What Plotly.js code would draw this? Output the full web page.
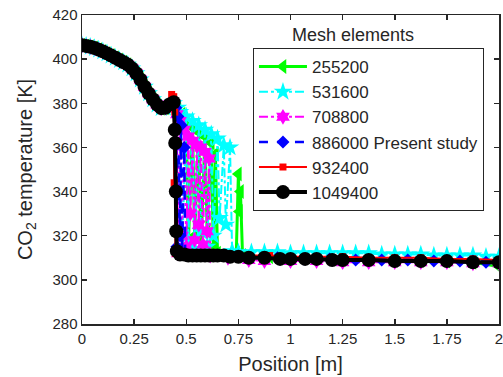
<!DOCTYPE html>
<html><head><meta charset="utf-8">
<script src="https://cdn.plot.ly/plotly-3.0.1.min.js"></script>
<style>html,body{margin:0;padding:0;background:#fff}#c{width:503px;height:377px}</style>
</head><body><div id="c"></div>
<script>
// shared upstream profile (all meshes overlap here)
const upX = [0, 0.02, 0.04, 0.06, 0.08, 0.10, 0.12, 0.14, 0.16, 0.18, 0.20, 0.22, 0.24, 0.26, 0.28, 0.30, 0.32, 0.34, 0.36, 0.38, 0.40, 0.42];
const upT = [406.3, 406, 405.6, 405, 404.3, 403.5, 402.6, 401.6, 400.6, 399.6, 398.6, 397.5, 395.8, 393.6, 390.8, 387.5, 384.5, 381.8, 379.4, 377.8, 378, 379.5];

const names = ['255200', '531600', '708800', '886000 Present study', '932400', '1049400'];

// 255200
const x255 = [0.44, 0.46, 0.48, 0.50, 0.51, 0.53, 0.54, 0.56, 0.57, 0.59, 0.60, 0.62, 0.63, 0.64, 0.65, 0.74, 0.75, 0.755, 0.76, 0.77, 0.8, 0.9, 1.0, 1.125, 1.25, 1.375, 1.5, 1.625, 1.75, 1.875, 2.0];
const t255 = [380, 377, 375, 372, 316, 369, 320, 367, 314, 365, 322, 362, 315, 357, 312, 312, 348, 331, 340, 311, 310.5, 310.5, 310, 310, 309.5, 309.5, 309, 309, 308.5, 308, 306];
// 531600
const x531 = [0.44, 0.46, 0.47, 0.48, 0.50, 0.51, 0.53, 0.54, 0.56, 0.57, 0.59, 0.60, 0.62, 0.63, 0.65, 0.66, 0.68, 0.69, 0.71, 0.72, 0.75, 0.8125, 0.875, 0.9375, 1.0, 1.0625, 1.125, 1.1875, 1.25, 1.3125, 1.375, 1.4375, 1.5, 1.5625, 1.625, 1.6875, 1.75, 1.8125, 1.875, 1.9375, 2.0];
const t531 = [380, 378, 376, 313, 374, 318, 372, 314, 370, 322, 368, 315, 366, 320, 364, 328, 361, 325, 360, 313, 312.5, 312.5, 312.5, 312.5, 312, 312, 312, 312, 312, 312, 312, 311.5, 311.5, 311.5, 311.5, 311, 311, 311, 311, 310.5, 310.5];
// 708800
const x708 = [0.44, 0.455, 0.46, 0.47, 0.48, 0.49, 0.50, 0.51, 0.52, 0.53, 0.54, 0.55, 0.56, 0.57, 0.58, 0.59, 0.60, 0.61, 0.615, 0.7, 0.8, 0.875, 1.0, 1.125, 1.25, 1.375, 1.5, 1.625, 1.75, 1.875, 2.0];
const t708 = [380, 375, 312, 372, 320, 368, 315, 365, 330, 363, 318, 361, 325, 360, 316, 358, 322, 355, 311, 310, 309, 308.5, 308.5, 308.5, 308, 308, 308, 308, 308, 307.5, 307.5];
// 886000
const x886 = [0.44, 0.45, 0.455, 0.46, 0.47, 0.475, 0.48, 0.49, 0.495, 0.5, 0.6, 0.7, 0.8, 0.875, 0.9375, 1.0, 1.0625, 1.125, 1.1875, 1.25, 1.3125, 1.375, 1.4375, 1.5, 1.5625, 1.625, 1.6875, 1.75, 1.8125, 1.875, 1.9375, 2.0];
const t886 = [380, 378, 315, 374, 320, 370, 312, 360, 312, 311, 311, 310.5, 310, 310, 310, 309.5, 309.5, 309.5, 309.5, 309, 309, 309, 309, 309, 309, 308.5, 308.5, 308.5, 308.5, 308.5, 308, 308];
// 932400
const x932 = [0.43, 0.44, 0.442, 0.445, 0.448, 0.46, 0.5, 0.6, 0.7, 0.8, 0.9, 1.0, 1.125, 1.25, 1.375, 1.5, 1.625, 1.75, 1.875, 2.0];
const t932 = [384, 383, 344, 376, 312, 311.5, 311.5, 311.5, 311, 311, 311, 310.5, 310.5, 310.5, 310, 310, 310, 309.5, 309.5, 309];
// 1049400
const x104 = [0.44, 0.445, 0.447, 0.45, 0.452, 0.455, 0.47, 0.49, 0.51, 0.53, 0.55, 0.57, 0.59, 0.61, 0.63, 0.65, 0.68, 0.71, 0.75, 0.8, 0.875, 0.95, 1.0, 1.07, 1.125, 1.2, 1.25, 1.375, 1.5, 1.625, 1.75, 1.875, 2.0];
const t104 = [380.5, 368, 362, 340, 322, 313, 311.5, 311.5, 311, 311, 311, 311, 311, 311, 311, 311, 311, 310.5, 310.5, 310, 310, 309.5, 309.5, 309.5, 309.5, 309, 309, 309, 308.5, 308.5, 308.5, 308, 308];

const xTickVals = [0, 0.25, 0.5, 0.75, 1, 1.25, 1.5, 1.75, 2];
const xTickText = ['0', '0.25', '0.5', '0.75', '1', '1.25', '1.5', '1.75', '2'];
const yTickVals = [280, 300, 320, 340, 360, 380, 400, 420];

const styles = [
  {color: '#00ff00', dash: 'solid', width: 3, symbol: 'triangle-left', size: 13},
  {color: '#00ffff', dash: 'dashdot', width: 2, symbol: 'star', size: 14},
  {color: '#ff00ff', dash: 'dashdot', width: 2, symbol: 'hexagram', size: 12},
  {color: '#0000ff', dash: 'dash', width: 2.5, symbol: 'diamond', size: 10},
  {color: '#ff0000', dash: 'solid', width: 2, symbol: 'square', size: 7},
  {color: '#000000', dash: 'solid', width: 4, symbol: 'circle', size: 14}
];
const xs = [x255, x531, x708, x886, x932, x104];
const ts = [t255, t531, t708, t886, t932, t104];

const traces = names.map((n, i) => ({
  x: upX.concat(xs[i]),
  y: upT.concat(ts[i]),
  name: n,
  type: 'scatter',
  mode: 'lines+markers',
  line: {color: styles[i].color, dash: styles[i].dash, width: styles[i].width},
  marker: {color: styles[i].color, symbol: styles[i].symbol, size: styles[i].size, line: {width: 0}}
}));

const F = 'Liberation Sans, Arial, sans-serif';
const axisCommon = {
  showgrid: false, zeroline: false, showline: true, mirror: 'ticks',
  linecolor: '#262626', linewidth: 1.5, ticks: 'inside', ticklen: 5, tickwidth: 1.5, tickcolor: '#262626',
  ticklabeloverflow: 'allow',
  tickfont: {family: F, size: 15, color: '#262626'}
};

const layout = {
  width: 503, height: 377,
  margin: {l: 82, r: 4, t: 15, b: 53},
  paper_bgcolor: '#fff', plot_bgcolor: '#fff',
  font: {family: F, color: '#262626'},
  xaxis: Object.assign({}, axisCommon, {
    range: [0, 2], tickvals: xTickVals, ticktext: xTickText,
    title: {text: 'Position [m]', font: {size: 20, color: '#262626'}, standoff: 11}
  }),
  yaxis: Object.assign({}, axisCommon, {
    range: [280, 420], tickvals: yTickVals,
    title: {text: 'CO<sub>2</sub> temperature [K]', font: {size: 20, color: '#262626'}, standoff: 14}
  }),
  legend: {
    x: 0.41, y: 0.893, xanchor: 'left', yanchor: 'top',
    bgcolor: '#fff', bordercolor: '#262626', borderwidth: 1,
    font: {family: F, size: 17, color: '#262626'},
    itemwidth: 48, tracegroupgap: 0
  },
  annotations: [{
    text: 'Mesh elements', xref: 'paper', yref: 'paper',
    x: 0.65, y: 0.935, xanchor: 'center', yanchor: 'middle', showarrow: false,
    font: {family: F, size: 18, color: '#262626'}
  }],
  showlegend: true
};

Plotly.newPlot('c', traces, layout, {displayModeBar: false, staticPlot: true});
</script>
</body></html>
